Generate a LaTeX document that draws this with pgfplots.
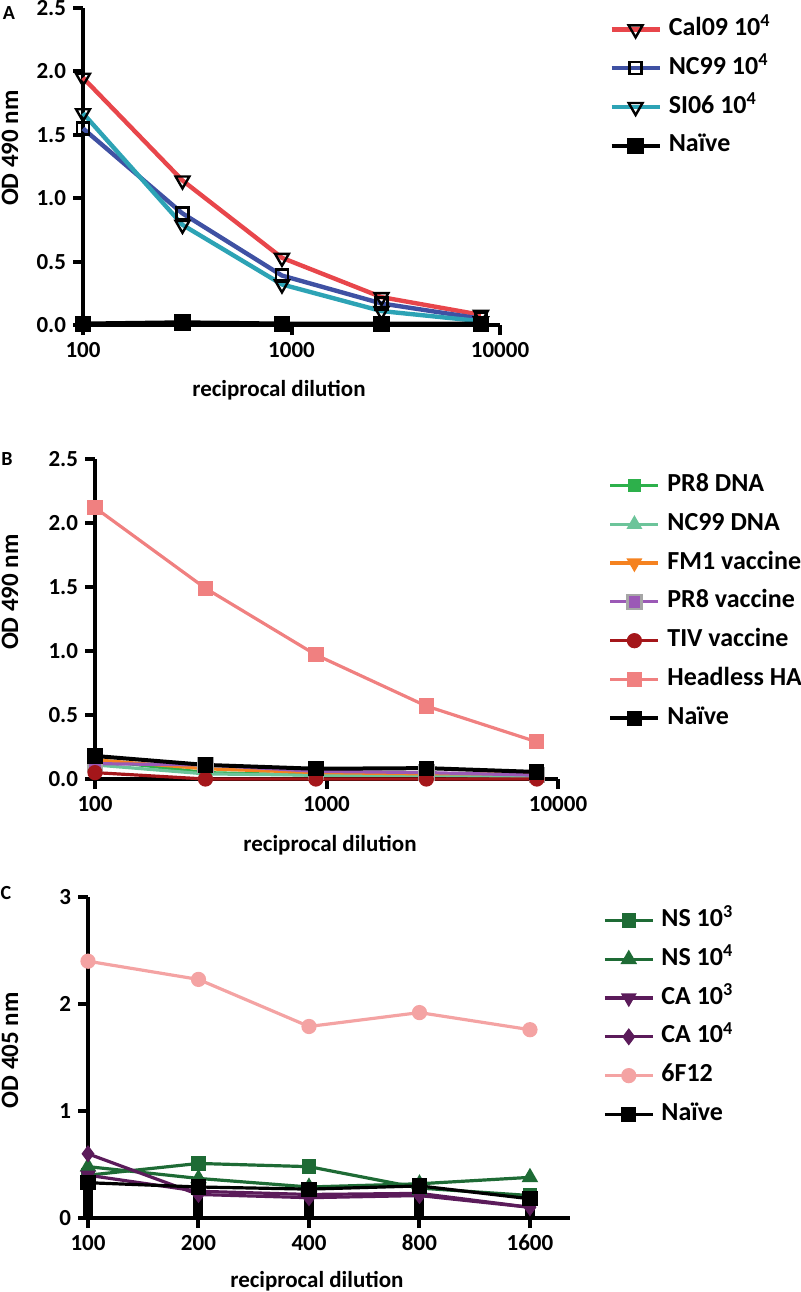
\documentclass[border=0pt]{standalone}
\usepackage{fontspec}
\setmainfont{Carlito}
\usepackage{pgfplots}
\pgfplotsset{compat=1.18}

\definecolor{calred}{RGB}{232,70,75}
\definecolor{ncblue}{RGB}{63,81,163}
\definecolor{siteal}{RGB}{45,163,181}
\definecolor{prgreen}{RGB}{45,176,75}
\definecolor{ncmint}{RGB}{108,196,154}
\definecolor{fmorange}{RGB}{245,130,32}
\definecolor{prpurple}{RGB}{155,89,182}
\definecolor{tivred}{RGB}{164,22,26}
\definecolor{hlpink}{RGB}{240,128,128}
\definecolor{nsgreen}{RGB}{30,107,53}
\definecolor{capurple}{RGB}{91,27,90}
\definecolor{fpink}{RGB}{244,163,163}

\pgfplotsset{
  prism/.style={
    scale only axis, clip=false, enlargelimits=false,
    axis lines=left, axis line style={-, line width=2pt},
    tick align=outside, major tick length=5pt,
    tick style={line width=2pt, black},
    tick label style={font=\bfseries\fontsize{11.5}{13}\selectfont},
    xlabel style={font=\bfseries\fontsize{11.5}{13}\selectfont},
    ylabel style={font=\bfseries\fontsize{12.5}{14}\selectfont},
    /pgf/number format/assume math mode=true,
    xminorticks=false, yminorticks=false,
    legend cell align=left,
    legend style={draw=none, fill=none, inner sep=0pt, row sep=7.4pt,
      font=\bfseries\fontsize{13}{15}\selectfont,
      nodes={inner sep=0pt, text height=9pt, text depth=3pt},
      /tikz/every odd column/.append style={column sep=3.5pt}},
    legend image code/.code={\draw (0pt,0pt) -- (24pt,0pt); \draw plot coordinates {(12pt,0pt)};},
  }
}

\begin{document}
\begin{tikzpicture}
\path[use as bounding box] (0,0) rectangle (400pt,-646pt);

% ---------------- Panel A ----------------
\begin{axis}[prism, at={(41.5pt,-162.5pt)}, anchor=south west,
  width=208.5pt, height=158.5pt,
  xmode=log, xmin=100, xmax=10000, ymin=0, ymax=2.5,
  xtick={100,1000,10000}, xticklabels={100,1000,10000},
  ytick={0,0.5,1,1.5,2,2.5}, yticklabels={0.0,0.5,1.0,1.5,2.0,2.5},
  xlabel={reciprocal dilution}, ylabel={OD 490 nm},
  xlabel style={at={(axis description cs:0.470,-0.205)}, anchor=center},
  ylabel style={at={(axis description cs:-0.175,0.558)}, anchor=center},
  legend style={at={(axis description cs:1.2614,0.9716)}, anchor=north west},
]
\addplot[calred, line width=2.2pt, mark=triangle, mark size=4pt,
  mark options={rotate=180, draw=black, fill=white, line width=1.2pt, solid}]
  coordinates {(100,1.95)(300,1.14)(900,0.53)(2700,0.22)(8100,0.08)};
\addlegendentry{Cal09 10\textsuperscript{4}}
\addplot[ncblue, line width=2.2pt, mark=square, mark size=3pt,
  mark options={draw=black, fill=white, line width=1.2pt, solid}]
  coordinates {(100,1.55)(300,0.88)(900,0.39)(2700,0.17)(8100,0.05)};
\addlegendentry{NC99 10\textsuperscript{4}}
\addplot[siteal, line width=2.2pt, mark=triangle, mark size=4pt,
  mark options={rotate=180, draw=black, fill=white, line width=1.2pt, solid}]
  coordinates {(100,1.67)(300,0.79)(900,0.32)(2700,0.11)(8100,0.03)};
\addlegendentry{SI06 10\textsuperscript{4}}
\addplot[black, line width=2.2pt, mark=square*, mark size=3pt]
  coordinates {(100,0.01)(300,0.02)(900,0.01)(2700,0.01)(8100,0.01)};
\addlegendentry{Naïve}
\end{axis}

% ---------------- Panel B ----------------
\begin{axis}[prism, at={(47.5pt,-389.5pt)}, anchor=south west,
  width=231.5pt, height=160pt,
  xmode=log, xmin=100, xmax=10000, ymin=0, ymax=2.5,
  xtick={100,1000,10000}, xticklabels={100,1000,10000},
  ytick={0,0.5,1,1.5,2,2.5}, yticklabels={0.0,0.5,1.0,1.5,2.0,2.5},
  xlabel={reciprocal dilution}, ylabel={OD 490 nm},
  xlabel style={at={(axis description cs:0.5076,-0.206)}, anchor=center},
  ylabel style={at={(axis description cs:-0.1836,0.584)}, anchor=center},
  legend style={at={(axis description cs:1.108,0.956)}, anchor=north west},
]
\addplot[prgreen, line width=1.6pt, mark=square*, mark size=2.5pt]
  coordinates {(100,0.15)(300,0.05)(900,0.03)(2700,0.03)(8100,0.02)};
\addlegendentry{PR8 DNA}
\addplot[ncmint, line width=1.6pt, mark=triangle*, mark size=3pt]
  coordinates {(100,0.11)(300,0.04)(900,0.03)(2700,0.03)(8100,0.02)};
\addlegendentry{NC99 DNA}
\addplot[fmorange, line width=1.6pt, mark=triangle*, mark size=3pt, mark options={rotate=180}]
  coordinates {(100,0.15)(300,0.08)(900,0.05)(2700,0.04)(8100,0.04)};
\addlegendentry{FM1 vaccine}
\addplot[prpurple, line width=1.6pt, mark=square*, mark size=3.5pt,
  mark options={fill=prpurple, draw=gray!70, line width=1.2pt}]
  coordinates {(100,0.12)(300,0.11)(900,0.06)(2700,0.05)(8100,0.03)};
\addlegendentry{PR8 vaccine}
\addplot[tivred, line width=1.6pt, mark=*, mark size=3pt]
  coordinates {(100,0.05)(300,0.0)(900,0.0)(2700,0.0)(8100,0.0)};
\addlegendentry{TIV vaccine}
\addplot[hlpink, line width=1.6pt, mark=square*, mark size=3pt]
  coordinates {(100,2.12)(300,1.49)(900,0.97)(2700,0.57)(8100,0.29)};
\addlegendentry{Headless HA}
\addplot[black, line width=2pt, mark=square*, mark size=2.8pt]
  coordinates {(100,0.18)(300,0.11)(900,0.08)(2700,0.085)(8100,0.055)};
\addlegendentry{Naïve}
\end{axis}

% ---------------- Panel C ----------------
\begin{axis}[prism, at={(44pt,-609pt)}, anchor=south west,
  width=241pt, height=160.5pt,
  xmode=log, log basis x=2, xmin=100, xmax=2057, ymin=0, ymax=3,
  xtick={100,200,400,800,1600}, xticklabels={100,200,400,800,1600},
  ytick={0,1,2,3}, yticklabels={0,1,2,3},
  xlabel={reciprocal dilution}, ylabel={OD 405 nm},
  xlabel style={at={(axis description cs:0.475,-0.196)}, anchor=center},
  ylabel style={at={(axis description cs:-0.162,0.523)}, anchor=center},
  legend style={at={(axis description cs:1.068,0.9657)}, anchor=north west},
]
\addplot[nsgreen, line width=1.6pt, mark=square*, mark size=2.8pt]
  coordinates {(100,0.40)(200,0.51)(400,0.48)(800,0.28)(1600,0.21)};
\addlegendentry{NS 10\textsuperscript{3}}
\addplot[nsgreen, line width=1.6pt, mark=triangle*, mark size=3.2pt]
  coordinates {(100,0.48)(200,0.37)(400,0.29)(800,0.32)(1600,0.38)};
\addlegendentry{NS 10\textsuperscript{4}}
\addplot[capurple, line width=1.6pt, mark=triangle*, mark size=3pt, mark options={rotate=180}]
  coordinates {(100,0.40)(200,0.25)(400,0.22)(800,0.23)(1600,0.10)};
\addlegendentry{CA 10\textsuperscript{3}}
\addplot[capurple, line width=1.6pt, mark=diamond*, mark size=3pt]
  coordinates {(100,0.60)(200,0.22)(400,0.19)(800,0.21)(1600,0.10)};
\addlegendentry{CA 10\textsuperscript{4}}
\addplot[fpink, line width=1.6pt, mark=*, mark size=3pt]
  coordinates {(100,2.40)(200,2.23)(400,1.79)(800,1.92)(1600,1.76)};
\addlegendentry{6F12}
\addplot[black, line width=1.6pt, mark=square*, mark size=3pt,
  error bars/.cd, y dir=minus, y explicit, error mark=none,
  error bar style={line width=5pt, black}]
  coordinates {(100,0.33) +- (0,0.34) (200,0.29) +- (0,0.31) (400,0.27) +- (0,0.29) (800,0.30) +- (0,0.32) (1600,0.18) +- (0,0.19)};
\addlegendentry{Naïve}
\end{axis}

\node[font=\bfseries\fontsize{10}{12}\selectfont] at (4.5pt,-6.5pt) {A};
\node[font=\bfseries\fontsize{10}{12}\selectfont] at (3.5pt,-229.5pt) {B};
\node[font=\bfseries\fontsize{10}{12}\selectfont] at (3pt,-446.5pt) {C};
\end{tikzpicture}
\end{document}
